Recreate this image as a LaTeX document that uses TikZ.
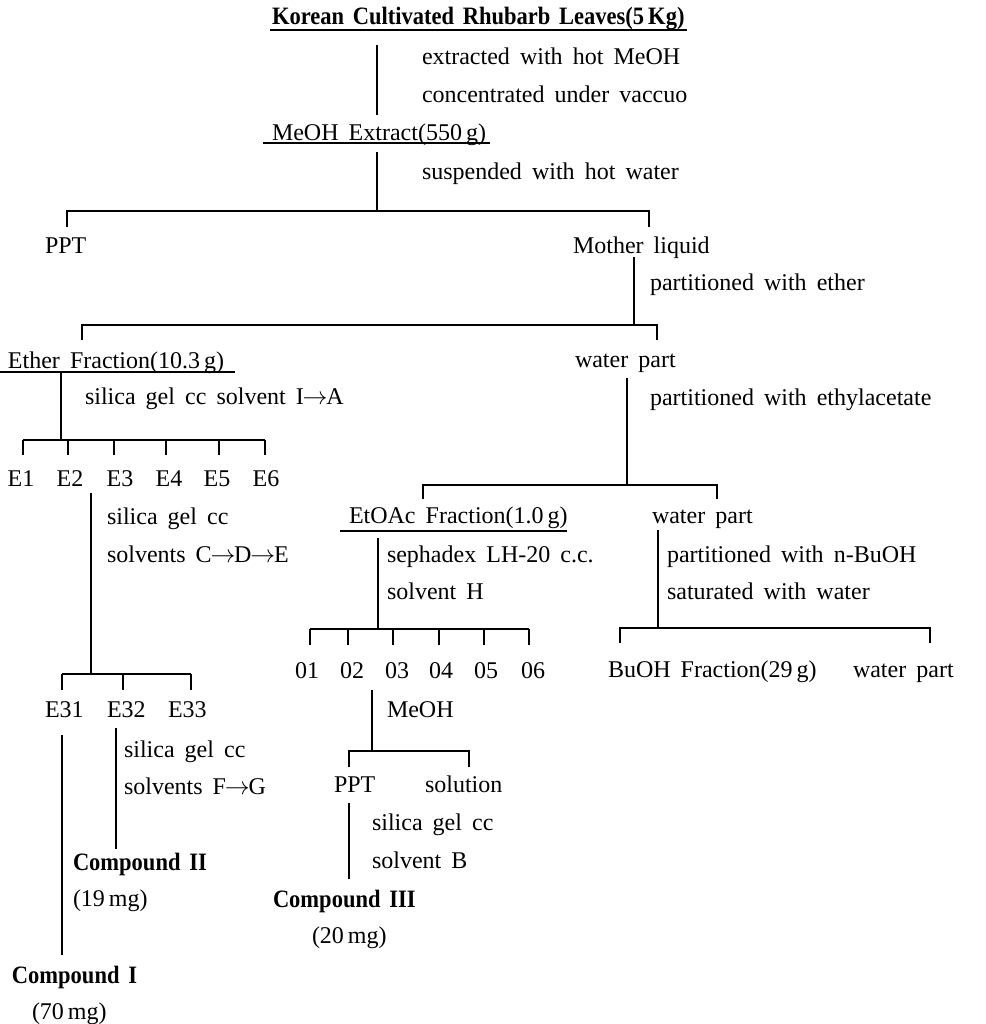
\documentclass[tikz,border=0pt]{standalone}
\usepackage{fontspec}
\setmainfont{Liberation Serif}
\newfontfamily\myboldfam{Liberation Serif}[FakeStretch=0.9]
\newcommand\mytxtfont{\fontsize{24}{28}\selectfont\spaceskip 0.42em\relax}
\newcommand\mybldfont{\myboldfam\fontsize{25}{28}\selectfont\bfseries\spaceskip 0.35em\relax}
\newcommand\arr{\kern-0.05em$\rightarrow$\kern-0.05em}
\begin{document}
\begin{tikzpicture}[x=1pt,y=-1pt,
  ln/.style={line width=1.1pt, black},
  txt/.style={anchor=base west, inner sep=0pt, outer sep=0pt, font=\mytxtfont},
  ctxt/.style={txt, anchor=base},
  bld/.style={anchor=base west, inner sep=0pt, outer sep=0pt, font=\mybldfont},
]
\useasboundingbox (0,0) rectangle (985,1024);

% ---------- texts ----------
\node[bld] (title) at (272,25) {Korean Cultivated Rhubarb Leaves(5\,Kg)};
\node[txt] (ext1) at (422,65) {extracted with hot MeOH};
\node[txt] (ext2) at (422,103) {concentrated under vaccuo};
\node[txt] (meoh) at (272,141) {MeOH Extract(550\,g)};
\node[txt] (susp) at (422,180) {suspended with hot water};
\node[txt] (ppt1) at (45,253) {PPT};
\node[txt] (mother) at (573,253) {Mother liquid};
\node[txt] (pether) at (650,290) {partitioned with ether};
\node[txt] (ether) at (8,368) {Ether Fraction(10.3\,g)};
\node[txt] (water1) at (575,367) {water part};
\node[txt] (silA) at (85,404) {silica gel cc solvent I\arr A};
\node[txt] (pethyl) at (650,405) {partitioned with ethylacetate};
\node[ctxt] (e1) at (21,486) {E1};
\node[ctxt] (e2) at (70,486) {E2};
\node[ctxt] (e3) at (120,486) {E3};
\node[ctxt] (e4) at (169,486) {E4};
\node[ctxt] (e5) at (217,486) {E5};
\node[ctxt] (e6) at (266,486) {E6};
\node[txt] (silC1) at (107,524) {silica gel cc};
\node[txt] (silC2) at (107,562) {solvents C\arr D\arr E};
\node[txt] (etoac) at (349,523) {EtOAc Fraction(1.0\,g)};
\node[txt] (water2) at (652,523) {water part};
\node[txt] (seph) at (387,562) {sephadex LH-20 c.c.};
\node[txt] (solvH) at (387,599) {solvent H};
\node[txt] (pbuoh) at (667,562) {partitioned with n-BuOH};
\node[txt] (satw) at (667,599) {saturated with water};
\node[ctxt] (f1) at (307,678) {01};
\node[ctxt] (f2) at (352,678) {02};
\node[ctxt] (f3) at (397,678) {03};
\node[ctxt] (f4) at (441,678) {04};
\node[ctxt] (f5) at (486,678) {05};
\node[ctxt] (f6) at (533,678) {06};
\node[txt] (buoh) at (608,677) {BuOH Fraction(29\,g)};
\node[txt] (water3) at (853,677) {water part};
\node[txt] (e31) at (45,717) {E31};
\node[txt] (e32) at (107,717) {E32};
\node[txt] (e33) at (168,717) {E33};
\node[txt] (meoh2) at (387,717) {MeOH};
\node[txt] (silF1) at (124,757) {silica gel cc};
\node[txt] (silF2) at (124,794) {solvents F\arr G};
\node[txt] (ppt2) at (334,792) {PPT};
\node[txt] (solution) at (425,792) {solution};
\node[txt] (silB1) at (372,830) {silica gel cc};
\node[txt] (silB2) at (372,868) {solvent B};
\node[bld] (comp2) at (73,870) {Compound II};
\node[txt] (mg19) at (73,906) {(19\,mg)};
\node[bld] (comp3) at (273,907) {Compound III};
\node[txt] (mg20) at (312,943) {(20\,mg)};
\node[bld] (comp1) at (12,983) {Compound I};
\node[txt] (mg70) at (32,1019) {(70\,mg)};

% ---------- coordinates ----------
\coordinate (ulTa) at (270,30);  \coordinate (ulTb) at (687,30);
\coordinate (v1a) at (377,45);   \coordinate (v1b) at (377,115);
\coordinate (ulMa) at (263,143); \coordinate (ulMb) at (490,143);
\coordinate (v2a) at (377,152);  \coordinate (v2b) at (377,211);
\coordinate (b1l) at (67,211);   \coordinate (b1r) at (649,211);
\coordinate (b1lt) at (67,227);  \coordinate (b1rt) at (649,227);
\coordinate (v3a) at (634,257);  \coordinate (v3b) at (634,325);
\coordinate (b2l) at (82,325);   \coordinate (b2r) at (657,325);
\coordinate (b2lt) at (82,340);  \coordinate (b2rt) at (657,340);
\coordinate (ulEa) at (0,372);   \coordinate (ulEb) at (235,372);
\coordinate (v4a) at (61,372);   \coordinate (v4b) at (61,440);
\coordinate (b3l) at (23,440);   \coordinate (b3r) at (265,440);
\coordinate (v5a) at (627,378);  \coordinate (v5b) at (627,485);
\coordinate (b4l) at (423,485);  \coordinate (b4r) at (717,485);
\coordinate (b4lt) at (423,499); \coordinate (b4rt) at (717,499);
\coordinate (ulOa) at (340,531); \coordinate (ulOb) at (567,531);
\coordinate (v6a) at (91,493);   \coordinate (v6b) at (91,674);
\coordinate (b5l) at (62,674);   \coordinate (b5r) at (191,674);
\coordinate (v7a) at (378,538);  \coordinate (v7b) at (378,629);
\coordinate (b6l) at (310,629);  \coordinate (b6r) at (529,629);
\coordinate (v8a) at (658,530);  \coordinate (v8b) at (658,628);
\coordinate (b7l) at (620,628);  \coordinate (b7r) at (930,628);
\coordinate (b7lt) at (620,643); \coordinate (b7rt) at (930,643);
\coordinate (v9a) at (62,735);   \coordinate (v9b) at (62,955);
\coordinate (v10a) at (116,728); \coordinate (v10b) at (116,849);
\coordinate (v11a) at (372,690); \coordinate (v11b) at (372,751);
\coordinate (b8l) at (349,751);  \coordinate (b8r) at (469,751);
\coordinate (b8lt) at (349,767); \coordinate (b8rt) at (469,767);
\coordinate (v12a) at (349,803); \coordinate (v12b) at (349,879);

% ---------- lines ----------
\draw[ln] (ulTa) -- (ulTb);
\draw[ln] (v1a) -- (v1b);
\draw[ln] (ulMa) -- (ulMb);
\draw[ln] (v2a) -- (v2b);
\draw[ln] (b1lt) -- (b1l) -- (b1r) -- (b1rt);
\draw[ln] (v3a) -- (v3b);
\draw[ln] (b2lt) -- (b2l) -- (b2r) -- (b2rt);
\draw[ln] (ulEa) -- (ulEb);
\draw[ln] (v4a) -- (v4b);
\draw[ln] (b3l) -- (b3r);
\foreach \xx in {23,68,114,166,219,265} \draw[ln] (\xx,440) -- (\xx,455);
\draw[ln] (v5a) -- (v5b);
\draw[ln] (b4lt) -- (b4l) -- (b4r) -- (b4rt);
\draw[ln] (ulOa) -- (ulOb);
\draw[ln] (v6a) -- (v6b);
\draw[ln] (b5l) -- (b5r);
\foreach \xx in {62,123,191} \draw[ln] (\xx,674) -- (\xx,690);
\draw[ln] (v7a) -- (v7b);
\draw[ln] (b6l) -- (b6r);
\foreach \xx in {310,348,393,439,484,529} \draw[ln] (\xx,629) -- (\xx,645);
\draw[ln] (v8a) -- (v8b);
\draw[ln] (b7lt) -- (b7l) -- (b7r) -- (b7rt);
\draw[ln] (v9a) -- (v9b);
\draw[ln] (v10a) -- (v10b);
\draw[ln] (v11a) -- (v11b);
\draw[ln] (b8lt) -- (b8l) -- (b8r) -- (b8rt);
\draw[ln] (v12a) -- (v12b);
\end{tikzpicture}
\end{document}
